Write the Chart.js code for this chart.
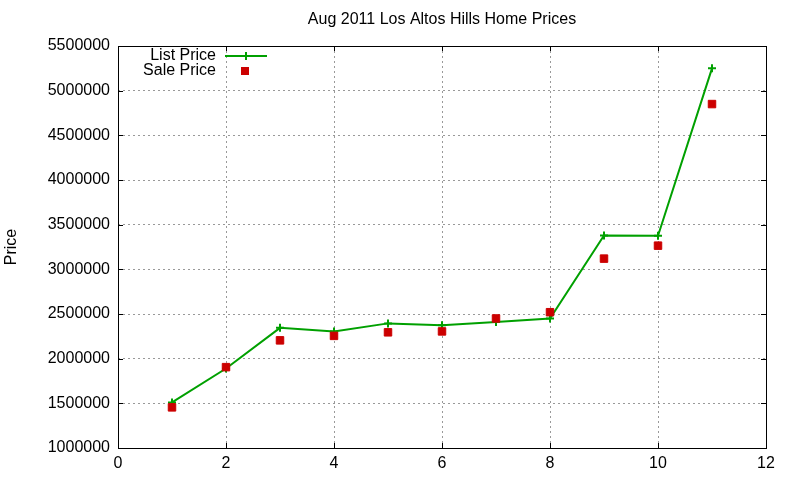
<!DOCTYPE html>
<html><head><meta charset="utf-8">
<script src="https://cdn.jsdelivr.net/npm/chart.js@4/dist/chart.umd.min.js"></script>
<style>html,body{margin:0;padding:0;background:#fff}#wrap{width:800px;height:480px}</style>
</head><body><div id="wrap"><canvas id="c" width="800" height="480"></canvas></div>
<script>
const chartTitle = 'Aug 2011 Los Altos Hills Home Prices';
const yAxisTitle = 'Price';
const seriesNames = ['List Price', 'Sale Price'];
const xValues = [1, 2, 3, 4, 5, 6, 7, 8, 9, 10, 11];
const listPrice = [1510000, 1890000, 2345000, 2305000, 2395000, 2375000, 2410000, 2450000, 3380000, 3375000, 5250000];
const salePrice = [1455000, 1905000, 2205000, 2255000, 2295000, 2305000, 2450000, 2520000, 3120000, 3265000, 4850000];
const xRange = [0, 12, 2];
const yRange = [1000000, 5500000, 500000];

const FONT = '"Liberation Sans", Arial, sans-serif';
const GREEN = '#00a000';
const RED = '#cc0000';

const gnuplotFrame = {
  id: 'gnuplotFrame',
  beforeDatasetsDraw(chart) {
    const ctx = chart.ctx, a = chart.chartArea;
    const xs = chart.scales.x, ys = chart.scales.y;
    ctx.save();
    ctx.strokeStyle = '#000';
    ctx.lineWidth = 1;
    ctx.beginPath();
    const L = 5;
    xs.ticks.forEach(t => {
      const px = Math.round(xs.getPixelForValue(t.value)) + 0.5;
      ctx.moveTo(px, a.bottom); ctx.lineTo(px, a.bottom - L);
      ctx.moveTo(px, a.top); ctx.lineTo(px, a.top + L);
    });
    ys.ticks.forEach(t => {
      const py = Math.round(ys.getPixelForValue(t.value)) + 0.5;
      ctx.moveTo(a.left, py); ctx.lineTo(a.left + L, py);
      ctx.moveTo(a.right, py); ctx.lineTo(a.right - L, py);
    });
    ctx.stroke();
    ctx.strokeRect(Math.round(a.left) + 0.5, Math.round(a.top) + 0.5, Math.round(a.right - a.left), Math.round(a.bottom - a.top));
    ctx.restore();
  },
  afterDraw(chart) {
    const ctx = chart.ctx, a = chart.chartArea;
    ctx.save();
    ctx.font = '16px ' + FONT;
    ctx.fillStyle = '#000';
    ctx.textBaseline = 'middle';
    ctx.textAlign = 'center';
    ctx.fillText(chartTitle, (a.left + a.right) / 2, 20);
    // legend
    ctx.textAlign = 'right';
    const tx = 216;
    const rows = [56, 71];
    ctx.fillText(chart.data.datasets[0].label, tx, rows[0]);
    ctx.fillText(chart.data.datasets[1].label, tx, rows[1]);
    ctx.strokeStyle = GREEN; ctx.lineWidth = 2;
    ctx.beginPath();
    ctx.moveTo(225, rows[0]); ctx.lineTo(267, rows[0]);
    ctx.moveTo(246, rows[0] - 4); ctx.lineTo(246, rows[0] + 4);
    ctx.stroke();
    ctx.fillStyle = RED;
    ctx.fillRect(241, rows[1] - 4, 8, 8);
    ctx.restore();
  }
};

new Chart(document.getElementById('c'), {
  type: 'scatter',
  data: {
    datasets: [
      {
        label: seriesNames[0],
        data: xValues.map((x, i) => ({x, y: listPrice[i]})),
        showLine: true,
        borderColor: GREEN,
        backgroundColor: GREEN,
        borderWidth: 2,
        pointStyle: 'cross',
        pointRadius: 4,
        pointBorderWidth: 2,
        pointBorderColor: GREEN,
        tension: 0,
        order: 2
      },
      {
        label: seriesNames[1],
        data: xValues.map((x, i) => ({x, y: salePrice[i]})),
        showLine: false,
        borderColor: RED,
        backgroundColor: RED,
        pointStyle: 'rect',
        pointRadius: 5.3,
        pointBorderWidth: 1,
        order: 1
      }
    ]
  },
  options: {
    responsive: false,
    devicePixelRatio: 1,
    animation: false,
    layout: { padding: { top: 46, right: 34, left: 0, bottom: 0 } },
    plugins: { legend: { display: false }, title: { display: false }, tooltip: { enabled: false } },
    scales: {
      x: {
        type: 'linear', min: xRange[0], max: xRange[1],
        ticks: { stepSize: xRange[2], color: '#000', font: { family: FONT, size: 16 }, padding: 6 },
        grid: { color: '#999', drawTicks: false, lineWidth: 1 },
        border: { display: false, dash: [2, 3] },
        afterFit(s) { s.height = 32; }
      },
      y: {
        type: 'linear', min: yRange[0], max: yRange[1],
        ticks: { stepSize: yRange[2], color: '#000', font: { family: FONT, size: 16 }, padding: 8,
          callback: v => String(v) },
        grid: { color: '#999', drawTicks: false, lineWidth: 1 },
        border: { display: false, dash: [2, 3] },
        title: { display: true, text: yAxisTitle, color: '#000', font: { family: FONT, size: 16 }, padding: { top: 2, bottom: 0 } },
        afterFit(s) { s.width = 118; }
      }
    }
  },
  plugins: [gnuplotFrame]
});
</script>
</body></html>
